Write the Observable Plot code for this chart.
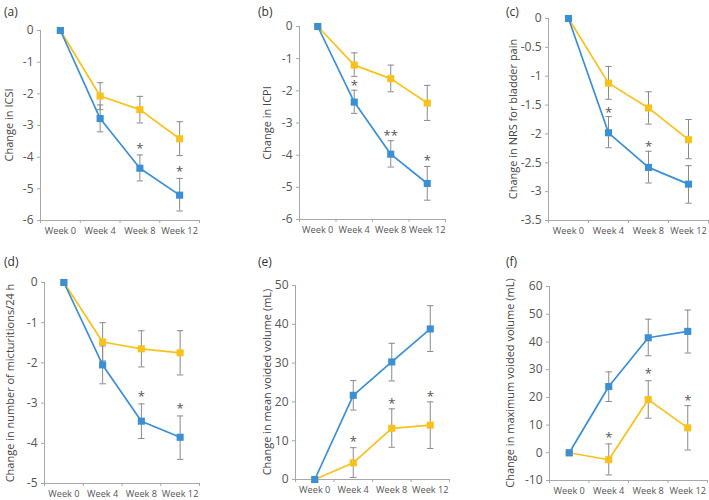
<!DOCTYPE html>
<html>
<head>
<meta charset="utf-8">
<script src="https://cdn.jsdelivr.net/npm/d3@7"></script>
<script src="https://cdn.jsdelivr.net/npm/@observablehq/plot@0.6"></script>
<style>
  html, body { margin: 0; padding: 0; background: #fff; }
  #root { position: relative; width: 709px; height: 500px; font-family: "Open Sans", sans-serif; overflow: hidden; }
  .panel { position: absolute; }
  .tag { position: absolute; font-size: 12px; color: #333; }
  .ylab { position: absolute; font-size: 11px; color: #444; white-space: nowrap; transform: translate(-50%, -50%) rotate(-90deg); }
</style>
</head>
<body>
<div id="root"></div>
<script>
// ---- shared categories ----
const weeks = ["Week 0", "Week 4", "Week 8", "Week 12"];
const seriesNames = ["Blue", "Yellow"];

// ---- (a) Change in ICSI ----
const aBlue = [0, -2.78, -4.35, -5.2];
const aBlueLo = [0, -3.2, -4.75, -5.7];
const aBlueHi = [0, -2.35, -3.93, -4.67];
const aYellow = [0, -2.07, -2.5, -3.42];
const aYellowLo = [0, -2.5, -2.92, -3.95];
const aYellowHi = [0, -1.65, -2.08, -2.88];
const aStarWeek = [2, 3];
const aStarY = [-3.63, -4.36];
const aStarText = ["*", "*"];
const aTicks = [0, -1, -2, -3, -4, -5, -6];

// ---- (b) Change in ICPI ----
const bBlue = [0, -2.35, -3.97, -4.88];
const bBlueLo = [0, -2.7, -4.37, -5.4];
const bBlueHi = [0, -1.98, -3.55, -4.35];
const bYellow = [0, -1.2, -1.62, -2.38];
const bYellowLo = [0, -1.55, -2.03, -2.92];
const bYellowHi = [0, -0.82, -1.2, -1.83];
const bStarWeek = [1, 2, 3];
const bStarY = [-1.74, -3.29, -4.07];
const bStarText = ["*", "**", "*"];
const bTicks = [0, -1, -2, -3, -4, -5, -6];

// ---- (c) Change in NRS for bladder pain ----
const cBlue = [0, -1.98, -2.58, -2.87];
const cBlueLo = [0, -2.24, -2.85, -3.2];
const cBlueHi = [0, -1.7, -2.3, -2.55];
const cYellow = [0, -1.12, -1.55, -2.1];
const cYellowLo = [0, -1.4, -1.83, -2.43];
const cYellowHi = [0, -0.83, -1.27, -1.75];
const cStarWeek = [1, 2];
const cStarY = [-1.58, -2.18];
const cStarText = ["*", "*"];
const cTicks = [0, -0.5, -1, -1.5, -2, -2.5, -3, -3.5];

// ---- (d) Change in number of micturitions/24 h ----
const dBlue = [0, -2.05, -3.45, -3.85];
const dBlueLo = [0, -2.52, -3.88, -4.4];
const dBlueHi = [0, -1.58, -3.02, -3.32];
const dYellow = [0, -1.48, -1.65, -1.75];
const dYellowLo = [0, -1.95, -2.1, -2.3];
const dYellowHi = [0, -1.0, -1.2, -1.2];
const dStarWeek = [2, 3];
const dStarY = [-2.76, -3.06];
const dStarText = ["*", "*"];
const dTicks = [0, -1, -2, -3, -4, -5];

// ---- (e) Change in mean voided volume (mL) ----
const eBlue = [0, 21.7, 30.3, 38.8];
const eBlueLo = [0, 17.9, 25.4, 33.0];
const eBlueHi = [0, 25.5, 35.1, 44.8];
const eYellow = [0, 4.3, 13.2, 14.0];
const eYellowLo = [0, 0.5, 8.3, 8.0];
const eYellowHi = [0, 8.2, 18.2, 20.0];
const eStarWeek = [1, 2, 3];
const eStarY = [10.6, 20.4, 22.2];
const eStarText = ["*", "*", "*"];
const eTicks = [0, 10, 20, 30, 40, 50];

// ---- (f) Change in maximum voided volume (mL) ----
const fBlue = [0, 23.9, 41.5, 43.8];
const fBlueLo = [0, 18.5, 35.0, 36.0];
const fBlueHi = [0, 29.2, 48.2, 51.5];
const fYellow = [0, -2.5, 19.2, 9.0];
const fYellowLo = [0, -8.0, 12.5, 1.0];
const fYellowHi = [0, 3.2, 26.0, 17.0];
const fStarWeek = [1, 2, 3];
const fStarY = [6.6, 29.4, 20.0];
const fStarText = ["*", "*", "*"];
const fTicks = [-10, 0, 10, 20, 30, 40, 50, 60];

const colors = { Blue: "#3a8fd5", Yellow: "#f8c21b" };

// cap symbol for error bars (horizontal dash)
const capSymbol = {
  draw(context, size) {
    const w = Math.sqrt(size / Math.PI);
    context.moveTo(-w, 0);
    context.lineTo(w, 0);
  }
};

const panels = [
  { tag: "(a)", label: "Change in ICSI", left: 0, top: 0, width: 236, mL: 40, mR: 37, mT: 30, mB: 30, labX: 8,
    blue: aBlue, blueLo: aBlueLo, blueHi: aBlueHi, yellow: aYellow, yellowLo: aYellowLo, yellowHi: aYellowHi,
    starW: aStarWeek, starY: aStarY, starT: aStarText, ticks: aTicks },
  { tag: "(b)", label: "Change in ICPI", left: 236, top: 0, width: 236, mL: 63, mR: 27, mT: 26, mB: 31, labX: 266,
    blue: bBlue, blueLo: bBlueLo, blueHi: bBlueHi, yellow: bYellow, yellowLo: bYellowLo, yellowHi: bYellowHi,
    starW: bStarWeek, starY: bStarY, starT: bStarText, ticks: bTicks },
  { tag: "(c)", label: "Change in NRS for bladder pain", left: 472, top: 0, width: 237, mL: 76, mR: 1, mT: 18, mB: 30, labX: 512,
    blue: cBlue, blueLo: cBlueLo, blueHi: cBlueHi, yellow: cYellow, yellowLo: cYellowLo, yellowHi: cYellowHi,
    starW: cStarWeek, starY: cStarY, starT: cStarText, ticks: cTicks },
  { tag: "(d)", label: "Change in number of micturitions/24 h", left: 0, top: 250, width: 236, mL: 44, mR: 37, mT: 32, mB: 17, labX: 9,
    blue: dBlue, blueLo: dBlueLo, blueHi: dBlueHi, yellow: dYellow, yellowLo: dYellowLo, yellowHi: dYellowHi,
    starW: dStarWeek, starY: dStarY, starT: dStarText, ticks: dTicks },
  { tag: "(e)", label: "Change in mean voided volume (mL)", left: 236, top: 250, width: 236, mL: 59, mR: 23, mT: 35, mB: 21, labX: 266,
    blue: eBlue, blueLo: eBlueLo, blueHi: eBlueHi, yellow: eYellow, yellowLo: eYellowLo, yellowHi: eYellowHi,
    starW: eStarWeek, starY: eStarY, starT: eStarText, ticks: eTicks },
  { tag: "(f)", label: "Change in maximum voided volume (mL)", left: 472, top: 250, width: 237, mL: 77, mR: 2, mT: 36, mB: 20, labX: 509,
    blue: fBlue, blueLo: fBlueLo, blueHi: fBlueHi, yellow: fYellow, yellowLo: fYellowLo, yellowHi: fYellowHi,
    starW: fStarWeek, starY: fStarY, starT: fStarText, ticks: fTicks }
];

const root = document.getElementById("root");
const H = 250;

for (const p of panels) {
  const rows = [];
  for (const [name, v, lo, hi] of [["Yellow", p.yellow, p.yellowLo, p.yellowHi], ["Blue", p.blue, p.blueLo, p.blueHi]]) {
    weeks.forEach((w, i) => rows.push({ series: name, i, value: v[i], lo: lo[i], hi: hi[i] }));
  }
  const errRows = rows.filter(d => d.i > 0);
  const stars = p.starW.map((w, k) => ({ i: w, y: p.starY[k], t: p.starT[k] }));
  const yDomain = [d3.min(p.ticks), d3.max(p.ticks)];
  const xDomain = [-0.5, weeks.length - 0.5];
  const boundaries = d3.range(weeks.length + 1).map(k => k - 0.5);

  const chart = Plot.plot({
    width: p.width,
    height: H,
    marginLeft: p.mL,
    marginRight: p.mR,
    marginTop: p.mT,
    marginBottom: p.mB,
    style: { fontFamily: "Open Sans", fontSize: "10px", background: "transparent", overflow: "visible" },
    x: { domain: xDomain, axis: null },
    y: { domain: yDomain, axis: null },
    marks: [
      Plot.ruleX([xDomain[0]], { stroke: "#a8a8a8", strokeWidth: 1 }),
      Plot.ruleY([yDomain[0]], { stroke: "#a8a8a8", strokeWidth: 1 }),
      Plot.axisY({ ticks: p.ticks, tickSize: 3, tickPadding: 4, stroke: "#a8a8a8", fill: "#555", fontSize: 12, tickFormat: d => `${d}`, label: null }),
      Plot.axisX({ ticks: boundaries, tickSize: 3, stroke: "#a8a8a8", tickFormat: () => "", label: null }),
      Plot.axisX({ ticks: d3.range(weeks.length), tickSize: 0, tickPadding: 7, fill: "#555", fontSize: 9.2, tickFormat: k => weeks[k], label: null }),
      Plot.ruleX(errRows, { x: "i", y1: "lo", y2: "hi", stroke: "#8a8a8a", strokeWidth: 1 }),
      Plot.dot(errRows, { x: "i", y: "lo", symbol: capSymbol, r: 3.2, stroke: "#8a8a8a", fill: "none", strokeWidth: 1 }),
      Plot.dot(errRows, { x: "i", y: "hi", symbol: capSymbol, r: 3.2, stroke: "#8a8a8a", fill: "none", strokeWidth: 1 }),
      Plot.line(rows, { x: "i", y: "value", z: "series", stroke: d => colors[d.series], strokeWidth: 1.7 }),
      Plot.dot(rows, { x: "i", y: "value", symbol: "square", r: 4, fill: d => colors[d.series], stroke: "none" }),
      Plot.text(stars, { x: "i", y: "y", text: "t", fill: "#555", fontSize: 13, dy: 3 })
    ]
  });
  chart.classList.add("panel");
  chart.style.left = p.left + "px";
  chart.style.top = p.top + "px";
  chart.style.position = "absolute";
  root.appendChild(chart);

  const tag = document.createElement("div");
  tag.className = "tag";
  tag.textContent = p.tag;
  tag.style.left = (p.left + (p.left === 0 ? 4 : p.left === 236 ? 22 : 34)) + "px";
  tag.style.top = (p.top + 3) + "px";
  root.appendChild(tag);

  const yl = document.createElement("div");
  yl.className = "ylab";
  yl.textContent = p.label;
  yl.style.left = p.labX + "px";
  yl.style.top = (p.top + p.mT + (H - p.mT - p.mB) / 2) + "px";
  root.appendChild(yl);
}
</script>
</body>
</html>
